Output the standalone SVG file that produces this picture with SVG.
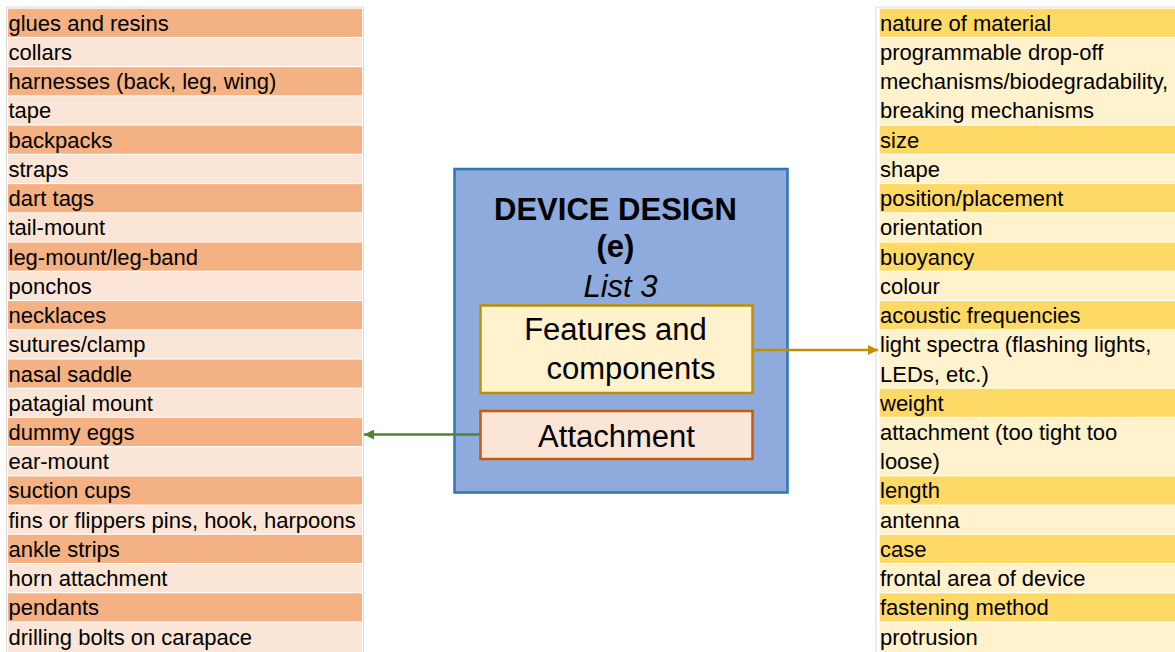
<svg xmlns="http://www.w3.org/2000/svg" width="1175" height="652" viewBox="0 0 1175 652">
<defs>
<style>
.t{font-family:"Liberation Sans",Arial,sans-serif;font-size:22px;fill:#000}
.c{font-family:"Liberation Sans",Arial,sans-serif;font-size:31px;fill:#000;text-anchor:middle}
.ld{fill:#F4B183}.ll{fill:#FBE5D6}.rd{fill:#FFD966}.rl{fill:#FFF2CC}
.frame{fill:none;stroke:#D9D9D9;stroke-width:1}
</style>
<marker id="ag" viewBox="0 0 10 10" refX="10" refY="5" markerWidth="10" markerHeight="10" markerUnits="userSpaceOnUse" orient="auto"><path d="M0,0L10,5L0,10z" fill="#548235"/></marker>
<marker id="ao" viewBox="0 0 10 10" refX="10" refY="5" markerWidth="10" markerHeight="10" markerUnits="userSpaceOnUse" orient="auto"><path d="M0,0L10,5L0,10z" fill="#BF9000"/></marker>
</defs>
<rect width="1175" height="652" fill="#fff"/>

<g id="left-list">
<rect class="frame" x="6.5" y="7" width="357" height="650"/>
<rect class="ld" x="8" y="8.7" width="354" height="28.2"/>
<rect class="ll" x="8" y="37.9" width="354" height="28.2"/>
<rect class="ld" x="8" y="67.2" width="354" height="28.2"/>
<rect class="ll" x="8" y="96.4" width="354" height="28.2"/>
<rect class="ld" x="8" y="125.6" width="354" height="28.2"/>
<rect class="ll" x="8" y="154.9" width="354" height="28.2"/>
<rect class="ld" x="8" y="184.1" width="354" height="28.2"/>
<rect class="ll" x="8" y="213.3" width="354" height="28.2"/>
<rect class="ld" x="8" y="242.5" width="354" height="28.2"/>
<rect class="ll" x="8" y="271.8" width="354" height="28.2"/>
<rect class="ld" x="8" y="301" width="354" height="28.2"/>
<rect class="ll" x="8" y="330.2" width="354" height="28.2"/>
<rect class="ld" x="8" y="359.5" width="354" height="28.2"/>
<rect class="ll" x="8" y="388.7" width="354" height="28.2"/>
<rect class="ld" x="8" y="417.9" width="354" height="28.2"/>
<rect class="ll" x="8" y="447.2" width="354" height="28.2"/>
<rect class="ld" x="8" y="476.4" width="354" height="28.2"/>
<rect class="ll" x="8" y="505.6" width="354" height="28.2"/>
<rect class="ld" x="8" y="534.8" width="354" height="28.2"/>
<rect class="ll" x="8" y="564.1" width="354" height="28.2"/>
<rect class="ld" x="8" y="593.3" width="354" height="28.2"/>
<rect class="ll" x="8" y="622.5" width="354" height="29.5"/>
<text class="t" x="8.5" y="30.7">glues and resins</text>
<text class="t" x="8.5" y="59.9">collars</text>
<text class="t" x="8.5" y="89.2">harnesses (back, leg, wing)</text>
<text class="t" x="8.5" y="118.4">tape</text>
<text class="t" x="8.5" y="147.6">backpacks</text>
<text class="t" x="8.5" y="176.9">straps</text>
<text class="t" x="8.5" y="206.1">dart tags</text>
<text class="t" x="8.5" y="235.3">tail-mount</text>
<text class="t" x="8.5" y="264.5">leg-mount/leg-band</text>
<text class="t" x="8.5" y="293.8">ponchos</text>
<text class="t" x="8.5" y="323">necklaces</text>
<text class="t" x="8.5" y="352.2">sutures/clamp</text>
<text class="t" x="8.5" y="381.5">nasal saddle</text>
<text class="t" x="8.5" y="410.7">patagial mount</text>
<text class="t" x="8.5" y="439.9">dummy eggs</text>
<text class="t" x="8.5" y="469.2">ear-mount</text>
<text class="t" x="8.5" y="498.4">suction cups</text>
<text class="t" x="8.5" y="527.6">fins or flippers pins, hook, harpoons</text>
<text class="t" x="8.5" y="556.8">ankle strips</text>
<text class="t" x="8.5" y="586.1">horn attachment</text>
<text class="t" x="8.5" y="615.3">pendants</text>
<text class="t" x="8.5" y="644.5">drilling bolts on carapace</text>
</g>

<g id="right-list">
<rect class="frame" x="876" y="7" width="305" height="650"/>
<rect class="rd" x="879.7" y="8.7" width="296" height="28.2"/>
<rect class="rl" x="879.7" y="37.9" width="296" height="86.7"/>
<rect class="rd" x="879.7" y="125.6" width="296" height="28.2"/>
<rect class="rl" x="879.7" y="154.9" width="296" height="28.2"/>
<rect class="rd" x="879.7" y="184.1" width="296" height="28.2"/>
<rect class="rl" x="879.7" y="213.3" width="296" height="28.2"/>
<rect class="rd" x="879.7" y="242.5" width="296" height="28.2"/>
<rect class="rl" x="879.7" y="271.8" width="296" height="28.2"/>
<rect class="rd" x="879.7" y="301" width="296" height="28.2"/>
<rect class="rl" x="879.7" y="330.2" width="296" height="57.5"/>
<rect class="rd" x="879.7" y="388.7" width="296" height="28.2"/>
<rect class="rl" x="879.7" y="417.9" width="296" height="57.5"/>
<rect class="rd" x="879.7" y="476.4" width="296" height="28.2"/>
<rect class="rl" x="879.7" y="505.6" width="296" height="28.2"/>
<rect class="rd" x="879.7" y="534.8" width="296" height="28.2"/>
<rect class="rl" x="879.7" y="564.1" width="296" height="28.2"/>
<rect class="rd" x="879.7" y="593.3" width="296" height="28.2"/>
<rect class="rl" x="879.7" y="622.5" width="296" height="29.5"/>
<text class="t" x="880" y="30.7">nature of material</text>
<text class="t" x="880" y="59.9">programmable drop-off</text>
<text class="t" x="880" y="89.2">mechanisms/biodegradability,</text>
<text class="t" x="880" y="118.4">breaking mechanisms</text>
<text class="t" x="880" y="147.6">size</text>
<text class="t" x="880" y="176.9">shape</text>
<text class="t" x="880" y="206.1">position/placement</text>
<text class="t" x="880" y="235.3">orientation</text>
<text class="t" x="880" y="264.5">buoyancy</text>
<text class="t" x="880" y="293.8">colour</text>
<text class="t" x="880" y="323">acoustic frequencies</text>
<text class="t" x="880" y="352.2">light spectra (flashing lights,</text>
<text class="t" x="880" y="381.5">LEDs, etc.)</text>
<text class="t" x="880" y="410.7">weight</text>
<text class="t" x="880" y="439.9">attachment (too tight too</text>
<text class="t" x="880" y="469.2">loose)</text>
<text class="t" x="880" y="498.4">length</text>
<text class="t" x="880" y="527.6">antenna</text>
<text class="t" x="880" y="556.8">case</text>
<text class="t" x="880" y="586.1">frontal area of device</text>
<text class="t" x="880" y="615.3">fastening method</text>
<text class="t" x="880" y="644.5">protrusion</text>
</g>

<g id="device-design">
<rect x="454.5" y="169" width="333" height="323.5" fill="#8FAADC" stroke="#2E75B6" stroke-width="2.5"/>
<text class="c" x="615.5" y="220" font-weight="bold">DEVICE DESIGN</text>
<text class="c" x="615.5" y="257" font-weight="bold">(e)</text>
<text class="c" x="620.5" y="297" font-style="italic">List 3</text>
</g>

<g id="features">
<rect x="480.5" y="305.5" width="272" height="87.5" fill="#FFF2CC" stroke="#BF9000" stroke-width="2.5"/>
<text class="c" x="615.5" y="340">Features and</text>
<text class="c" x="631" y="379">components</text>
</g>

<g id="attachment">
<rect x="480.5" y="411" width="272" height="48" fill="#FBE5D6" stroke="#C55A11" stroke-width="2.5"/>
<text class="c" x="616.5" y="446.5">Attachment</text>
</g>

<g id="connectors" fill="none" stroke-width="2.5">
<line x1="754" y1="350" x2="878" y2="350" stroke="#BF9000" marker-end="url(#ao)"/>
<line x1="480" y1="434.5" x2="364" y2="434.5" stroke="#548235" marker-end="url(#ag)"/>
</g>
</svg>
